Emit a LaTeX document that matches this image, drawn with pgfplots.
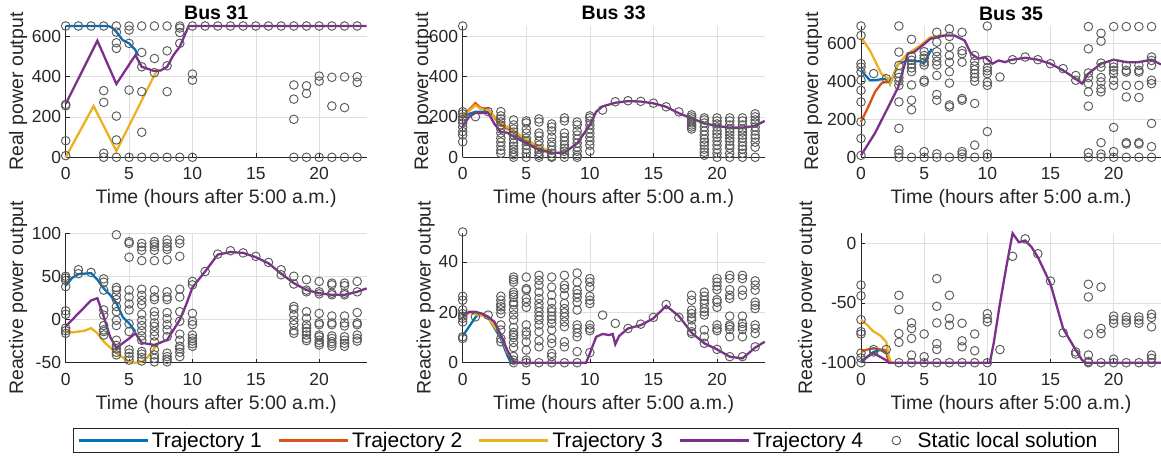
\documentclass[border=0pt]{standalone}
\usepackage{fontspec}
\setmainfont{Liberation Sans}
\usepackage{pgfplots}
\pgfplotsset{compat=1.18}
\definecolor{c1}{RGB}{0,114,189}
\definecolor{c2}{RGB}{217,83,25}
\definecolor{c3}{RGB}{237,177,32}
\definecolor{c4}{RGB}{126,47,142}
\definecolor{axisgray}{RGB}{38,38,38}
\definecolor{gridgray}{RGB}{223,223,223}
\definecolor{circgray}{RGB}{90,90,90}
\pgfplotsset{
  mat/.style={
    scale only axis, anchor=south west,
    xmin=0, xmax=23.75, xtick={0,5,10,15,20},
    axis x line*=bottom, axis y line*=left,
    axis line style={draw=axisgray, line width=0.8pt},
    grid=major, major grid style={draw=gridgray, line width=0.6pt},
    tick align=inside, major tick length=4pt,
    tick style={draw=axisgray, line width=0.6pt},
    /pgf/number format/assume math mode=true,
    scaled y ticks=false,
    tick label style={font=\fontsize{17.5}{20}\selectfont, text=axisgray},
    xticklabel style={anchor=base, yshift=-22.7pt, inner sep=0pt},
    yticklabel style={anchor=east, xshift=-4.5pt, inner sep=0pt},
    every axis x label/.style={at={(axis description cs:0.5,0)}, anchor=base, yshift=-46.5pt, font=\fontsize{19.5}{22}\selectfont, text=axisgray, inner sep=0pt},
    every axis title/.style={at={(axis description cs:0.5,1)}, anchor=base, yshift=6pt, font=\bfseries\fontsize{19.5}{22}\selectfont, inner sep=0pt},
    xlabel={Time (hours after 5:00 a.m.)},
    clip=false,
  },
  ylab/.style={every axis y label/.style={at={(axis description cs:#1,0.5)}, rotate=90, anchor=center, font=\fontsize{19.5}{22}\selectfont, text=axisgray, inner sep=0pt}},
  circ/.style={only marks, mark=o, mark size=4.3pt, draw=circgray, line width=0.95pt, forget plot},
  tr/.style={no marks, line width=2.3pt, draw=#1, forget plot},
  lineleg/.style={legend image code/.code={\draw[##1] (0pt,0pt) -- (69pt,0pt);}},
}
\begin{document}
\begin{tikzpicture}[x=1pt,y=1pt]
\path[use as bounding box] (0,0) rectangle (1161,466);

% ---------- Bus 31 real ----------
\begin{axis}[mat, at={(65.7pt,308.7pt)}, width=301pt, height=131.3pt,
  ymin=0, ymax=650, ytick={0,200,400,600}, ylab=-0.158,
  ylabel={Real power output}, title={Bus 31}]
\addplot[circ] coordinates {
(0,650)(0,262)(0,255)(0,82)(0,8)
(1,650)(2,650)
(3,650)(3,330)(3,272)(3,20)(3,0)
(4,650)(4,620)(4,567)(4,539)(4,204)(4,86)(4,0)
(5,650)(5,630)(5,564)(5,333)(5,0)
(6,650)(6,519)(6,448)(6,325)(6,124)(6,0)
(7,650)(7,489)(7,419)(7,0)
(8,650)(8,527)(8,453)(8,325)(8,0)
(9,650)(9,640)(9,618)(9,564)(9,0)
(10,650)(10,412)(10,382)(10,0)
(11,650)(12,650)(13,650)(14,650)(15,650)(16,650)(17,650)
(18,650)(18,358)(18,288)(18,188)(18,0)
(19,650)(19,354)(19,316)(19,0)
(20,650)(20,402)(20,377)(20,0)
(21,650)(21,396)(21,254)(21,0)
(22,650)(22,398)(22,246)(22,0)
(23,650)(23,399)(23,371)(23,0)
};
\addplot[tr=c1] coordinates {(0,650)(3.3,650)(3.6,645)(4,621)(4.5,580)(5,564)(5.5,531)(5.7,505)};
\addplot[tr=c3] coordinates {(0,0)(2.2,254)(4,31)(7,407)(7.2,425)};
\addplot[tr=c4] coordinates {(0,264)(2.5,577)(4,363)(5.5,506)(6,448)(7,427)(7.5,430)(8,448)(8.5,506)(9,547)(9.7,650)(23.75,650)};
\end{axis}

% ---------- Bus 33 real ----------
\begin{axis}[mat, at={(462.7pt,308.7pt)}, width=302pt, height=131.3pt,
  ymin=0, ymax=650, ytick={0,200,400,600}, ylab=-0.131,
  ylabel={Real power output}, title={Bus 33}]
\addplot[circ] coordinates {
(0,650)(0,226)(0,215)(0,200)(0,185)(0,170)(0,150)(0,127)(0,110)(0,77)
(1,201)(2,226)
(3,226)(3,205)(3,190)(3,175)(3,160)(3,140)(3,120)(3,95)(3,75)(3,55)(3,35)(3,20)
(4,185)(4,160)(4,140)(4,125)(4,110)(4,90)(4,70)(4,55)(4,40)(4,25)(4,12)(4,0)
(5,180)(5,170)(5,140)(5,120)(5,95)(5,80)(5,60)(5,40)(5,20)(5,0)
(6,190)(6,175)(6,120)(6,105)(6,80)(6,60)(6,40)(6,25)(6,10)(6,0)
(7,165)(7,150)(7,130)(7,100)(7,75)(7,55)(7,35)(7,20)(7,5)(7,0)
(8,195)(8,180)(8,120)(8,100)(8,80)(8,60)(8,45)(8,30)(8,15)(8,0)
(9,175)(9,160)(9,130)(9,110)(9,90)(9,70)(9,50)(9,30)(9,10)(9,0)
(10,205)(10,195)(10,180)(10,160)(10,140)(10,120)(10,100)(10,80)(10,60)(10,30)
(11,234)(12,275)(13,280)(14,277)(15,268)(16,250)(17,225)
(18,210)(18,200)(18,190)(18,180)(18,170)(18,160)(18,150)(18,140)
(19,195)(19,185)(19,170)(19,150)(19,130)(19,110)(19,90)(19,75)(19,60)(19,40)(19,25)(19,10)
(20,195)(20,180)(20,165)(20,150)(20,130)(20,115)(20,100)(20,80)(20,60)(20,40)(20,20)(20,0)
(21,195)(21,180)(21,160)(21,140)(21,125)(21,110)(21,95)(21,80)(21,60)(21,45)(21,20)(21,0)
(22,195)(22,180)(22,160)(22,140)(22,125)(22,110)(22,95)(22,75)(22,55)(22,40)(22,20)(22,0)
(23,215)(23,200)(23,185)(23,170)(23,150)(23,130)(23,110)(23,95)(23,75)(23,50)(23,0)
};
\addplot[tr=c1] coordinates {(0,200)(0.5,215)(1,225)(1.5,225)(2,228)(2.5,200)(3,165)(3.5,150)(4,125)(4.5,100)(5,80)(6,42)};
\addplot[tr=c2] coordinates {(0,205)(0.5,235)(1,268)(1.4,245)(2,240)(2.5,195)(3,160)(4,125)(5,85)(6,45)(7,28)};
\addplot[tr=c3] coordinates {(0,200)(0.5,230)(1,258)(1.4,240)(2,235)(2.5,200)(3,170)(3.5,150)(4,130)(5,90)(6,50)(7,30)};
\addplot[tr=c4] coordinates {(0,155)(0.5,200)(1,220)(2,220)(2.5,165)(3,125)(3.5,122)(4,103)(5,69)(6,36)(7,23)(8,23)(9,69)(10,160)(10.5,226)(11,252)(12,270)(13,278)(14,276)(15,267)(16,250)(17,218)(18,193)(19,168)(20,155)(21,147)(22,147)(23,155)(23.75,180)};
\end{axis}

% ---------- Bus 35 real ----------
\begin{axis}[mat, at={(861pt,308.7pt)}, width=300pt, height=131.3pt,
  ymin=0, ymax=690, ytick={0,200,400,600}, ylab=-0.160,
  ylabel={Real power output}, title={Bus 35}]
\addplot[circ] coordinates {
(0,690)(0,640)(0,492)(0,474)(0,448)(0,405)(0,352)(0,291)(0,186)(0,99)(0,10)
(1,440)(2,413)
(3,690)(3,553)(3,483)(3,440)(3,420)(3,400)(3,378)(3,291)(3,152)(3,38)(3,20)(3,0)
(4,620)(4,530)(4,510)(4,490)(4,470)(4,450)(4,380)(4,300)(4,250)(4,0)
(5,555)(5,535)(5,520)(5,500)(5,485)(5,405)(5,395)(5,30)(5,0)
(6,657)(6,605)(6,555)(6,530)(6,505)(6,485)(6,430)(6,330)(6,300)(6,18)(6,0)
(7,675)(7,635)(7,580)(7,535)(7,500)(7,450)(7,390)(7,275)(7,265)(7,0)
(8,657)(8,560)(8,545)(8,500)(8,309)(8,300)(8,30)(8,17)(8,0)
(9,535)(9,505)(9,480)(9,460)(9,440)(9,420)(9,400)(9,283)(9,64)(9,0)
(10,690)(10,510)(10,470)(10,455)(10,440)(10,395)(10,378)(10,135)(10,17)(10,0)
(11,422)(12,513)(13,527)(14,513)(15,492)(16,466)(17,430)(17,405)
(18,687)(18,570)(18,443)(18,419)(18,387)(18,344)(18,269)(18,24)(18,0)
(19,652)(19,610)(19,495)(19,474)(19,419)(19,396)(19,361)(19,344)(19,77)(19,17)(19,0)
(20,687)(20,492)(20,474)(20,457)(20,440)(20,405)(20,378)(20,157)(20,30)(20,0)
(21,687)(21,483)(21,457)(21,448)(21,378)(21,317)(21,77)(21,70)(21,0)
(22,687)(22,483)(22,457)(22,448)(22,378)(22,314)(22,77)(22,70)(22,0)
(23,687)(23,527)(23,509)(23,483)(23,405)(23,387)(23,178)(23,56)(23,0)
};
\addplot[tr=c1] coordinates {(0,457)(0.7,405)(1.1,405)(1.9,413)(2.15,413)(2.3,387)(2.95,492)(3.7,509)(4.2,505)(4.7,505)(4.97,492)(5.6,570)};
\addplot[tr=c2] coordinates {(0,186)(0.7,283)(1.1,343)(1.6,387)(2.15,405)(2.3,387)};
\addplot[tr=c3] coordinates {(0,631)(0.7,562)(1.1,509)(1.6,440)(2.15,413)(2.3,387)(2.95,492)(3.7,545)(4.7,588)(5.5,631)(6.3,640)(6.8,640)};
\addplot[tr=c4] coordinates {(0,10)(1.1,126)(2.16,265)(2.95,370)(3.7,545)(4.2,553)(4.7,579)(5.5,623)(6.6,640)(7.4,640)(8.2,614)(8.7,545)(9.3,518)(9.8,527)(10.4,492)(10.9,509)(11.4,500)(11.8,510)(12,513)(13,523)(14,513)(15,492)(16,457)(17,413)(17.5,387)(18,440)(19,492)(20,513)(21,500)(22,500)(23,513)(23.75,488)};
\end{axis}

% ---------- Bus 31 reactive ----------
\begin{axis}[mat, at={(65.7pt,103.3pt)}, width=301pt, height=129.7pt,
  ymin=-50, ymax=100, ytick={-50,0,50,100}, ylab=-0.158,
  ylabel={Reactive power output}]
\addplot[circ] coordinates {
(0,50)(0,48)(0,45)(0,38)(0,10)(0,6)(0,-10)(0,-13)(0,-16)
(1,57.5)(1,53)(2,54.4)
(3,47)(3,43)(3,34)(3,11)(3,5)(3,-7)(3,-12)(3,-14)(3,-18)
(4,98)(4,37)(4,34)(4,28)(4,23)(4,15)(4,9)(4,-1)(4,-7)(4,-24)(4,-30)(4,-34)(4,-38)(4,-41)
(5,90)(5,88)(5,72)(5,34)(5,26)(5,18)(5,11)(5,-5)(5,-14)(5,-35)(5,-39)(5,-43)(5,-47)
(6,88)(6,84)(6,80)(6,68)(6,35)(6,28)(6,22)(6,17)(6,6)(6,-1)(6,-7)(6,-13)(6,-19)(6,-24)(6,-37)(6,-40)(6,-44)(6,-48)
(7,90)(7,87)(7,84)(7,80)(7,68)(7,34)(7,26)(7,23)(7,9)(7,4)(7,-4)(7,-8)(7,-14)(7,-19)(7,-26)(7,-35)(7,-41)(7,-45)(7,-49)
(8,92)(8,88)(8,84)(8,81)(8,69)(8,32)(8,26)(8,23)(8,8)(8,1)(8,-6)(8,-12)(8,-20)(8,-39)(8,-43)(8,-46)(8,-49)
(9,92)(9,88)(9,73)(9,35)(9,26)(9,9)(9,-2)(9,-17)(9,-24)(9,-31)(9,-34)(9,-38)(9,-43)
(10,44)(10,40)(10,7)(10,-2)(10,-6)(10,-18)(10,-22)(10,-25)(10,-28)(10,-31)
(11,55.5)(12,75.6)(13,79.5)(14,77)(15,73)(16,66)(17,57.5)(17,51.7)
(18,50)(18,41)(18,15)(18,12)(18,5)(18,-1)(18,-6)(18,-13)(18,-16)
(19,46)(19,34)(19,32)(19,9)(19,1.5)(19,-6)(19,-10)(19,-14)(19,-18)(19,-22)(19,-24.5)
(20,44)(20,32)(20,29.6)(20,7)(20,-4)(20,-6)(20,-18)(20,-20)(20,-24)(20,-27)(20,-29.5)
(21,42)(21,40)(21,30.4)(21,28.5)(21,4)(21,-4)(21,-6)(21,-19)(21,-22)(21,-25.6)(21,-28)(21,-31)
(22,42)(22,39)(22,30.4)(22,28.5)(22,4)(22,-4)(22,-7.5)(22,-20)(22,-24)(22,-27.6)(22,-31)
(23,44)(23,32)(23,8)(23,-4)(23,-6)(23,-18)(23,-22)(23,-25)
};
\addplot[tr=c1] coordinates {(0,39)(0.5,48)(1,52.4)(2,53.6)(2.5,46)(3,36)(3.5,28.5)(4,19)(4.5,3)(5,-4.4)(5.5,-14)};
\addplot[tr=c3] coordinates {(0,-14)(0.5,-15)(1,-14)(1.5,-13)(2,-10)(2.5,-16)(3,-25.6)(4,-39)(5,-49)(5.5,-50)(6,-49)(6.5,-43)(7,-33)(7.3,-29)};
\addplot[tr=c4] coordinates {(0,-8)(2,22)(2.5,24.6)(3,3.4)(3.5,-20)(4,-33)(5,-22)(5.5,-16)(6,-27)(7,-29.5)(8,-23.7)(9,-0.5)(9.5,17)(10,37)(11,55.5)(12,75)(13,78)(14,77)(15,72)(16,65)(17,53)(18,42)(19,34)(20,30.4)(21,28.5)(22,28.5)(23,32)(23.75,36)};
\end{axis}

% ---------- Bus 33 reactive ----------
\begin{axis}[mat, at={(462.7pt,103.3pt)}, width=302pt, height=129.7pt,
  ymin=0, ymax=51.5, ytick={0,20,40}, ylab=-0.1225,
  ylabel={Reactive power output},
  legend columns=5,
  legend style={at={(0.4414,-0.600)}, anchor=center, draw=axisgray, line width=0.8pt,
    font=\fontsize{21}{23}\selectfont, text=black, inner xsep=4pt, inner ysep=2pt,
    nodes={inner xsep=3pt, inner ysep=2pt},
    /tikz/every even column/.append style={column sep=13pt}},
  legend cell align=left]
\addplot[circ] coordinates {
(0,51.9)(0,26.4)(0,24.8)(0,21)(0,19.5)(0,18.5)(0,17.6)(0,16.2)(0,10.3)(0,9.6)
(1,18.2)(2,18.9)
(3,26.4)(3,24.8)(3,23.2)(3,22.2)(3,21)(3,19.5)(3,15)(3,13)(3,9.6)(3,8.3)
(4,34)(4,33)(4,32)(4,28)(4,27)(4,26)(4,24)(4,23)(4,21)(4,19)(4,17)(4,14)(4,12)(4,11)(4,10)(4,8)(4,6)(4,2.5)(4,1)(4,0)
(5,34)(5,29.4)(5,28.8)(5,25.5)(5,24)(5,22)(5,15)(5,12.3)(5,11)(5,8.3)(5,5)(5,1)(5,0)
(6,34.7)(6,32.7)(6,30.8)(6,28)(6,25.5)(6,23.5)(6,21.9)(6,20.2)(6,18.5)(6,17)(6,15)(6,12.3)(6,8.7)(6,6.3)(6,0)
(7,34)(7,30)(7,26.8)(7,24)(7,21.5)(7,20.2)(7,18.5)(7,17.2)(7,15.6)(7,13)(7,9.6)(7,7.7)(7,3.7)(7,2.4)(7,0)
(8,34.7)(8,30.8)(8,29.4)(8,26.8)(8,23.5)(8,21.5)(8,19.8)(8,18.2)(8,16.2)(8,14.3)(8,8.3)(8,6.3)(8,0)
(9,35.6)(9,32)(9,28.8)(9,27.4)(9,25.9)(9,24)(9,20.9)(9,15)(9,13.6)(9,11.9)(9,10.3)(9,4.4)(9,0)
(10,33.4)(10,32)(10,30)(10,26.4)(10,24.8)(10,23.5)(10,15)(10,13.6)(10,12.7)(10,4)
(11,18.9)(12,15.6)(13,13.6)(14,15.3)(15,18)(16,23.1)(17,18)
(18,26.8)(18,24.8)(18,20.9)(18,19.5)(18,18)(18,17)(18,14.3)(18,12.3)(18,11.6)
(19,28)(19,26.4)(19,24.8)(19,23.5)(19,21.5)(19,20.2)(19,18.9)(19,13)(19,10.3)(19,7.7)
(20,33.4)(20,32)(20,30.4)(20,29)(20,25)(20,24)(20,22)(20,15)(20,13.6)(20,12.7)(20,5.3)
(21,34.7)(21,33.4)(21,29)(21,26.8)(21,25.5)(21,18.5)(21,15)(21,14.3)(21,13.2)(21,10.3)(21,2.4)
(22,34.7)(22,33.4)(22,28.8)(22,26.8)(22,18.5)(22,15.6)(22,14.3)(22,13.2)(22,10.3)(22,2.4)
(23,32.5)(23,30.8)(23,28.8)(23,24)(23,22.8)(23,21.5)(23,15)(23,13.6)(23,11.6)(23,6.3)
};
\addplot[tr=c1] coordinates {(0,10.6)(0.5,14.3)(1,18)(1.3,19.5)(2,18)(3,9.6)(3.5,3)(3.8,0)(4.5,0)};
\addplot[tr=c2] coordinates {(0,19)(0.5,20)(1,20)(2,18.3)(3,10.8)(3.5,4.6)(4,0.8)(4.2,0)(4.6,0)};
\addplot[tr=c3] coordinates {(0,18.2)(0.5,19.8)(1,19.3)(2,18)(3,10.6)(3.5,4.4)(4,0.8)(4.2,0)(4.6,0)};
\addplot[tr=c4] coordinates {(0,18.5)(0.5,20.2)(1,20.2)(1.5,19.5)(2,18.2)(2.5,16.2)(3,11)(3.5,5)(4,0.4)(4.3,0)(9.7,0)(10,3.7)(10.5,10.3)(11,11.4)(11.5,11)(11.8,11.4)(12,7.3)(12.3,10.6)(13,13.6)(14,14.9)(15,17.6)(16,22.6)(17,18.5)(18,11.9)(19,7.7)(20,5.3)(21,2.4)(22,1.7)(23,6)(23.75,8.3)};
\addlegendimage{lineleg, draw=c1, line width=2.3pt}
\addlegendentry{Trajectory 1}
\addlegendimage{lineleg, draw=c2, line width=2.3pt}
\addlegendentry{Trajectory 2}
\addlegendimage{lineleg, draw=c3, line width=2.3pt}
\addlegendentry{Trajectory 3}
\addlegendimage{lineleg, draw=c4, line width=2.3pt}
\addlegendentry{Trajectory 4\kern13pt}
\addlegendimage{only marks, mark=o, mark size=4.3pt, draw=circgray, line width=0.95pt}
\addlegendentry{\kern14pt Static local solution\kern14pt}
\end{axis}

% ---------- Bus 35 reactive ----------
\begin{axis}[mat, at={(861pt,103.3pt)}, width=300pt, height=129.7pt,
  ymin=-100, ymax=8.5, ytick={-100,-50,0}, ylab=-0.18,
  ylabel={Reactive power output}]
\addplot[circ] coordinates {
(0,-35)(0,-44)(0,-64)(0,-74)(0,-76)(0,-92)(0,-96)(0,-100)
(1,-91)(1,-89)(2,-89)
(3,-43.6)(3,-55.6)(3,-75.6)(3,-83)(3,-100)
(4,-66.7)(4,-71.4)(4,-79.7)(4,-93.6)(4,-100)
(5,-76)(5,-95)(5,-100)
(6,-29.7)(6,-52.8)(6,-66.7)(6,-84)(6,-88.9)(6,-100)
(7,-43.6)(7,-63)(7,-68.6)(7,-100)
(8,-67)(8,-81.7)(8,-86.7)(8,-100)
(9,-76)(9,-90)(9,-100)
(10,-59)(10,-63)(10,-65.8)(10,-100)
(11,-89)(12,-11)(13,3.6)(14,-8.9)(15,-31.7)(16,-75)(17,-91)(17,-92.8)
(18,-34.4)(18,-45)(18,-76)(18,-93.6)(18,-99)(18,-100)
(19,-36.7)(19,-71.4)(19,-75.6)(19,-100)
(20,-61)(20,-64)(20,-67)(20,-97)(20,-100)
(21,-61.7)(21,-64.4)(21,-66.7)(21,-100)
(22,-61.7)(22,-64.4)(22,-67)(22,-100)
(23,-59.4)(23,-62.2)(23,-70)(23,-93.6)(23,-96.4)(23,-100)
};
\addplot[tr=c1] coordinates {(0,-100)(0.5,-95)(1,-91)(1.5,-89.4)(2,-91)(2.2,-100)};
\addplot[tr=c2] coordinates {(0,-91)(0.5,-89)(1,-88)(1.5,-89)(2,-89.4)(2.2,-99)(2.3,-100)};
\addplot[tr=c3] coordinates {(0,-64)(0.5,-68.6)(1,-74)(1.5,-77)(2,-82.5)(2.2,-95)(2.4,-100)};
\addplot[tr=c4] coordinates {(0,-99)(0.5,-95)(1,-92)(1.5,-95)(2,-98)(2.2,-100)(10.2,-100)(10.5,-84)(11,-50.5)(11.5,-20)(12,8.3)(12.5,0.8)(13,2.2)(13.5,-3.3)(14,-11.7)(15,-34)(16,-71.4)(17,-89.4)(17.5,-97.8)(17.8,-100)(23.75,-100)};
\end{axis}
\end{tikzpicture}
\end{document}
